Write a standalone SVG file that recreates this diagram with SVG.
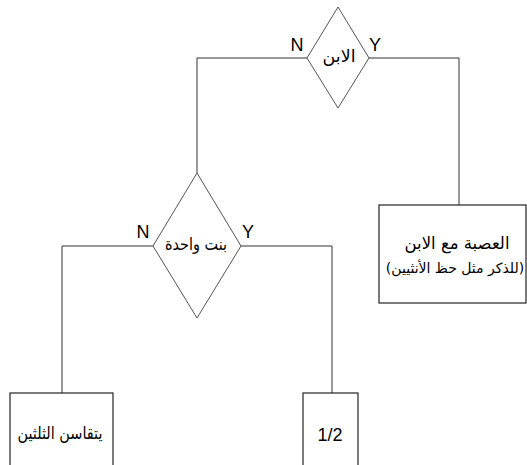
<svg xmlns="http://www.w3.org/2000/svg" width="527" height="465" viewBox="0 0 527 465">
<style>
.ln{fill:none;stroke:#333;stroke-width:1}
.dm{fill:#fff;stroke:#555;stroke-width:1}
.bx{fill:#fff;stroke:#222;stroke-width:1.2}
.ar{font-family:"DejaVu Sans","Noto Sans",sans-serif;font-size:17px;fill:#000;text-anchor:middle}
.lb{font-family:"Liberation Sans",Arial,sans-serif;font-size:18px;fill:#000;text-anchor:middle}
</style>
<rect width="527" height="465" fill="#fff"/>
<g id="connectors">
<polyline class="ln" points="307,58 197,58 197,173"/>
<polyline class="ln" points="369,58 459,58 459,205"/>
<polyline class="ln" points="153,246 62,246 62,393"/>
<polyline class="ln" points="241,246 332,246 332,393"/>
</g>
<g id="d1">
<polygon class="dm" points="338,7 369,58 338,108 307,58"/>
<text class="ar" x="339" y="62" direction="rtl" textLength="33" lengthAdjust="spacingAndGlyphs">الابن</text>
<text class="lb" x="297" y="51">N</text>
<text class="lb" x="375" y="51">Y</text>
</g>
<g id="d2">
<polygon class="dm" points="197,173 241,246 197,318 153,246"/>
<text class="ar" x="196" y="250" direction="rtl" textLength="62" lengthAdjust="spacingAndGlyphs">بنت واحدة</text>
<text class="lb" x="143" y="238">N</text>
<text class="lb" x="248" y="238">Y</text>
</g>
<g id="b1">
<rect class="bx" x="379" y="205" width="147" height="98"/>
<text class="ar" x="457" y="249" direction="rtl" textLength="105" lengthAdjust="spacingAndGlyphs">العصبة مع الابن</text>
<text class="ar" x="455" y="273" direction="rtl" style="font-size:14px">(للذكر مثل حظ الأنثيين)</text>
</g>
<g id="b2">
<rect class="bx" x="10" y="393" width="103" height="80"/>
<text class="ar" x="60" y="439" direction="rtl" textLength="85" lengthAdjust="spacingAndGlyphs">يتقاسن الثلثين</text>
</g>
<g id="b3">
<rect class="bx" x="303" y="393" width="55" height="80"/>
<text class="lb" x="330" y="441">1/2</text>
</g>
</svg>
